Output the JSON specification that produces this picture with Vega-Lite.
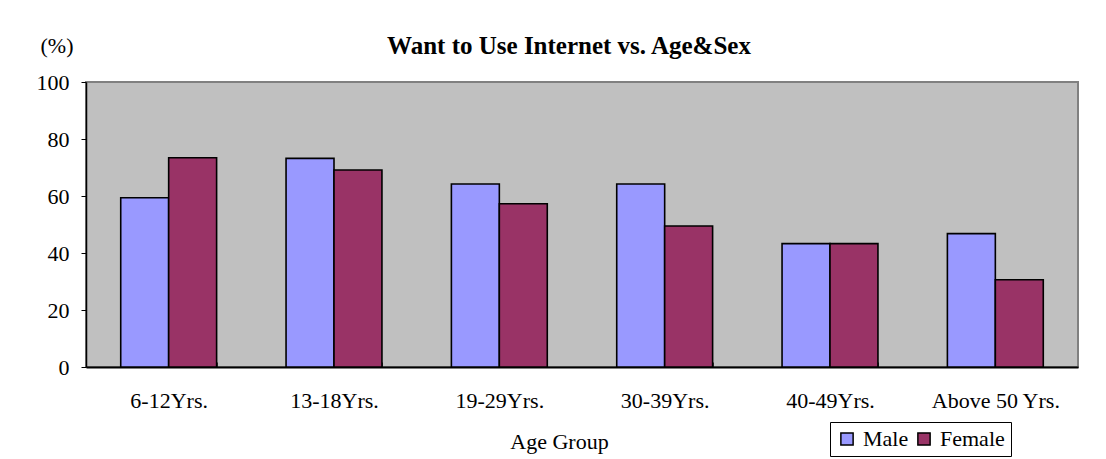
{
  "$schema": "https://vega.github.io/schema/vega-lite/v6.json",
  "width": 992,
  "height": 285,
  "autosize": {"type": "none"},
  "padding": {"left": 86, "top": 82, "right": 28, "bottom": 92},
  "background": "white",
  "title": {
    "text": "Want to Use Internet vs. Age&Sex",
    "font": "Times New Roman, Liberation Serif, serif",
    "fontSize": 25,
    "fontWeight": "bold",
    "color": "black",
    "anchor": "middle",
    "dx": -13,
    "baseline": "alphabetic",
    "offset": -45
  },
  "data": {
    "values": [
      {"age": "6-12Yrs.", "sex": "Male", "pct": 59.4},
      {"age": "6-12Yrs.", "sex": "Female", "pct": 73.4},
      {"age": "13-18Yrs.", "sex": "Male", "pct": 73.2},
      {"age": "13-18Yrs.", "sex": "Female", "pct": 69.1},
      {"age": "19-29Yrs.", "sex": "Male", "pct": 64.2},
      {"age": "19-29Yrs.", "sex": "Female", "pct": 57.3},
      {"age": "30-39Yrs.", "sex": "Male", "pct": 64.2},
      {"age": "30-39Yrs.", "sex": "Female", "pct": 49.5},
      {"age": "40-49Yrs.", "sex": "Male", "pct": 43.3},
      {"age": "40-49Yrs.", "sex": "Female", "pct": 43.3},
      {"age": "Above 50 Yrs.", "sex": "Male", "pct": 46.8},
      {"age": "Above 50 Yrs.", "sex": "Female", "pct": 30.6}
    ]
  },
  "mark": {"type": "bar", "stroke": "black", "strokeWidth": 1.6},
  "encoding": {
    "x": {
      "field": "age",
      "type": "nominal",
      "sort": null,
      "scale": {"paddingInner": 0.42, "paddingOuter": 0.21},
      "axis": {
        "title": "Age Group",
        "titleFont": "Times New Roman, Liberation Serif, serif",
        "titleFontSize": 22,
        "titleFontWeight": "normal",
        "titleColor": "black",
        "titleX": 473,
        "titleY": 81,
        "titleBaseline": "alphabetic",
        "titleAnchor": null,
        "labelFont": "Times New Roman, Liberation Serif, serif",
        "labelFontSize": 22,
        "labelColor": "black",
        "labelAngle": 0,
        "labelBaseline": "alphabetic",
        "labelPadding": 45,
        "tickBand": "extent",
        "tickSize": -5,
        "tickColor": "#333333",
        "tickWidth": 1,
        "domainColor": "black",
        "domainWidth": 2
      }
    },
    "xOffset": {"field": "sex", "type": "nominal", "sort": ["Male", "Female"]},
    "y": {
      "field": "pct",
      "type": "quantitative",
      "scale": {"domain": [0, 100]},
      "axis": {
        "values": [0, 20, 40, 60, 80, 100],
        "grid": false,
        "title": "(%)",
        "titleAngle": 0,
        "titleFont": "Times New Roman, Liberation Serif, serif",
        "titleFontSize": 22,
        "titleFontWeight": "normal",
        "titleColor": "black",
        "titleAlign": "left",
        "titleBaseline": "middle",
        "titleX": -46,
        "titleY": -37,
        "labelFont": "Times New Roman, Liberation Serif, serif",
        "labelFontSize": 22,
        "labelColor": "black",
        "labelPadding": 12,
        "tickSize": 5,
        "tickColor": "black",
        "domainColor": "black",
        "domainWidth": 1.5
      }
    },
    "color": {
      "field": "sex",
      "type": "nominal",
      "sort": ["Male", "Female"],
      "scale": {"domain": ["Male", "Female"], "range": ["#9999FF", "#993366"]},
      "legend": {
        "title": null,
        "orient": "none",
        "legendX": 744,
        "legendY": 340,
        "direction": "horizontal",
        "strokeColor": "black",
        "padding": 6,
        "symbolType": "square",
        "symbolSize": 150,
        "symbolStrokeColor": "black",
        "symbolStrokeWidth": 1.5,
        "labelFont": "Times New Roman, Liberation Serif, serif",
        "labelFontSize": 22,
        "labelColor": "black",
        "labelOffset": 5,
        "columnPadding": 4
      }
    }
  },
  "config": {
    "view": {"fill": "#C0C0C0", "stroke": "#808080", "strokeWidth": 2}
  }
}
